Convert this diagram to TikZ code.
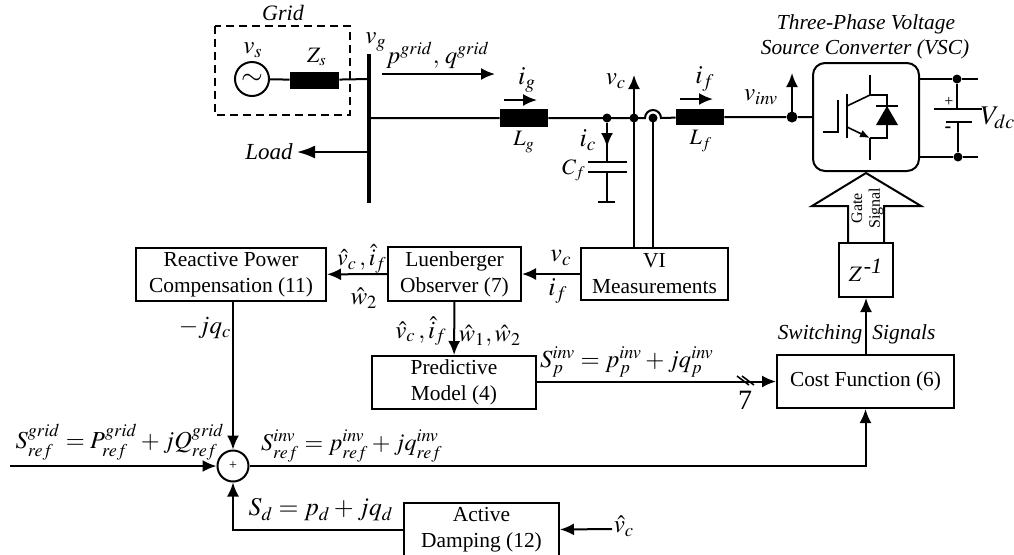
\documentclass[tikz,border=0pt]{standalone}
\usepackage{mathptmx}
\usepackage[no-math]{fontspec}
\setmainfont{Liberation Serif}
\usepackage{tikz}
\usetikzlibrary{arrows.meta,positioning,calc}
\tikzset{
  block/.style={draw,line width=1pt,inner sep=0pt,align=center,font=\fontsize{10.7}{13}\selectfont},
  lab/.style={inner sep=0pt,font=\fontsize{10.7}{13}\selectfont},
  flow/.style={-{Latex[length=7pt,width=6pt]},line width=1pt},
  wire/.style={line width=1pt},
  thin wire/.style={line width=0.8pt},
  dot/.style={circle,fill=black,inner sep=0pt,minimum size=4.5pt},
  choke/.style={fill=black,inner sep=0pt},
}
\begin{document}
\begin{tikzpicture}[x=0.5pt,y=-0.5pt]
\useasboundingbox (0,0) rectangle (1014,554);
% grid side
\draw[line width=0.7pt,dash pattern=on 4pt off 2.5pt] (215,26) rectangle (350,115);
\node[lab,font=\fontsize{11}{13}\itshape] (gridlab) at (283,13) {Grid};
\node[circle,draw,line width=1pt,minimum size=17pt,inner sep=0pt] (vs) at (252,79) {\fontsize{14}{14}\selectfont$\sim$};
\node[lab] (vslab) at (253,50) {\fontsize{12.5}{12}\selectfont$v_s$};
\node[choke,minimum width=24.5pt,minimum height=8.5pt] (zs) at (314.5,80) {};
\node[lab] (zslab) at (317,57) {\fontsize{11}{12}\selectfont$Z_s$};
\coordinate (bustop) at (369,54);
\coordinate (busbot) at (369,203);
\draw[line width=1.6pt] (bustop) -- (busbot);
\coordinate (busa) at (369,79);
\coordinate (busb) at (369,118);
\coordinate (busc) at (369,152);
\draw[wire] (vs) -- (zs) -- (busa);
\node[lab] (vglab) at (376,42) {\fontsize{12.5}{12}\selectfont$v_g$};
\coordinate (pqa) at (382,74);
\coordinate (pqb) at (495,74);
\draw[flow] (pqa) -- (pqb);
\node[lab] (pqlab) at (438,55) {\fontsize{12.2}{12}\selectfont$p^{grid},\,q^{grid}$};
\node[lab,font=\fontsize{11.5}{13}\itshape] (loadlab) at (269,152) {Load};
\draw[-{Latex[length=9pt,width=6.5pt]},wire] (busc) -- (297,152);
% filter
\node[choke,minimum width=24pt,minimum height=9pt] (lg) at (524,118) {};
\node[lab] (lglab) at (524,142) {\fontsize{11}{12}\selectfont$L_g$};
\node[lab] (iglab) at (527,80) {\fontsize{13}{12}\selectfont$i_g$};
\draw[flow] (504,100) -- (537,100);
\node[dot] (ncap) at (607,118) {};
\node[dot] (nvc) at (634,118) {};
\node[dot] (nif) at (653,118) {};
\node[choke,minimum width=24pt,minimum height=8pt] (lf) at (700,117) {};
\node[lab] (lflab) at (701,141) {\fontsize{11}{12}\selectfont$L_f$};
\node[lab] (iflab) at (705,79) {\fontsize{13}{12}\selectfont$i_f$};
\draw[flow] (680,99) -- (713,99);
\node[dot,minimum size=5.5pt] (ninv) at (792,117) {};
\draw[wire] (busb) -- (lg) -- (nvc.center) -- (645,118) arc[start angle=180,end angle=360,radius=8] -- (lf) -- (ninv) -- (813,117);
% capacitor
\coordinate (capa) at (607,162);
\coordinate (capb) at (607,172);
\coordinate (gnd) at (607,202);
\draw[wire] (ncap) -- (capa);
\draw[flow] (ncap) -- (607,147);
\draw[line width=1.2pt] (588,162) -- (627,162);
\draw[line width=1.2pt] (588,172) -- (627,172);
\draw[wire] (capb) -- (gnd);
\draw[wire] (598,202) -- (615,202);
\node[lab] (iclab) at (588,140) {\fontsize{13}{12}\selectfont$i_c$};
\node[lab] (cflab) at (574,170) {\fontsize{11}{12}\selectfont$C_f$};
\node[lab] (vclab) at (616,81) {\fontsize{12.5}{12}\selectfont$v_c$};
\node[lab] (vinvlab) at (761,97) {\fontsize{12.5}{12}\selectfont$v_{inv}$};
\draw[flow] (nvc.center) -- (634,75);
\draw[flow] (ninv.center) -- (792,73);
% converter
\node[lab,font=\fontsize{10.7}{13}\itshape] (title1) at (866,24) {Three-Phase Voltage};
\node[lab,font=\fontsize{10.7}{13}\itshape] (title2) at (865,49) {Source Converter (VSC)};
\draw[wire,rounded corners=6pt] (813,63) rectangle (919,171);
\draw[thin wire] (823,132) -- (838,132) -- (838,100);
\draw[wire] (847,94) -- (847,138);
\draw[thin wire] (847,106) -- (870,95) -- (870,75);
\draw[thin wire] (870,95) -- (887,95) -- (887,138) -- (870,138);
\draw[thin wire,-{Latex[length=5pt,width=4pt]}] (847,127) -- (870,138);
\draw[thin wire] (870,138) -- (870,160);
\fill (887,106) -- (876,125) -- (898,125) -- cycle;
\draw[thin wire] (876,106) -- (898,106);
% dc link
\node[dot] (dctop) at (957,79) {};
\node[dot] (dcbot) at (958,157) {};
\draw[wire] (919,79) -- (dctop) -- (978,79);
\draw[wire] (919,157) -- (dcbot) -- (978,157);
\draw[wire] (dctop) -- (957,109);
\draw[wire] (958,122) -- (dcbot);
\draw[wire] (934,109) -- (982,109);
\draw[wire] (946,122) -- (972,122);
\node[lab,font=\fontsize{8}{8}\selectfont] (plus) at (949,102) {+};
\node[lab,font=\fontsize{10}{8}\bfseries] (minus) at (948,130) {-};
\node[lab] (vdclab) at (998,118) {\fontsize{13.5}{14}\selectfont$V_{dc}$};
% gate signal
\draw[wire] (848,243) -- (848,206) -- (812,206) -- (866,173) -- (921,206) -- (884,206) -- (884,243);
\node[lab,font=\fontsize{8}{9}\selectfont,rotate=90] (gatelab) at (857,208) {Gate};
\node[lab,font=\fontsize{8}{9}\selectfont,rotate=90] (siglab) at (876,208) {Signal};
\node[block,minimum width=27pt,minimum height=27pt,font=\fontsize{11}{13}\selectfont] (zinv) at (866,270) {$Z^{\,\textit{-1}}$};
\node[block,minimum width=88.5pt,minimum height=26.5pt] (cost) at (865.5,381.5) {Cost Function (6)};
\draw[flow] (cost.north -| zinv.south) -- (zinv.south);
\node[lab,font=\fontsize{10.7}{13}\itshape] (swlab1) at (820,334) {Switching};
\node[lab,font=\fontsize{10.7}{13}\itshape] (swlab2) at (904,334) {Signals};
% control blocks
\node[block,minimum width=73.5pt,minimum height=26pt] (vi) at (654.5,274) {VI\\Measurements};
\node[block,minimum width=66.5pt,minimum height=27pt] (obs) at (454.5,274) {Luenberger\\Observer (7)};
\node[block,minimum width=95pt,minimum height=26.5pt] (rpc) at (231,274.5) {Reactive Power\\Compensation (11)};
\node[block,minimum width=82pt,minimum height=26.5pt] (pred) at (454,382.5) {Predictive\\Model (4)};
\node[block,minimum width=77.5pt,minimum height=26.5pt] (damp) at (481.5,529.5) {Active\\Damping (12)};
\node[circle,draw,line width=1pt,minimum size=15.5pt,inner sep=0pt,font=\fontsize{7}{8}\selectfont] (sum) at (233,466) {+};
\draw[wire] (nvc.center) -- (vi.north -| nvc);
\draw[wire] (nif.center) -- (vi.north -| nif);
\draw[flow] (vi) -- (obs);
\draw[flow] (obs) -- (rpc);
\draw[flow] (obs) -- (pred);
\node[lab] (vclab2) at (561,258) {\fontsize{13}{12}\selectfont$v_c$};
\node[lab] (iflab2) at (558,291) {\fontsize{13}{12}\selectfont$i_f$};
\node[lab] (hatlab1) at (362,259) {\fontsize{12}{12}\selectfont$\hat{v}_c\,,\hat{i}_f$};
\node[lab] (hatlab2) at (364,298) {\fontsize{12.5}{12}\selectfont$\hat{w}_2$};
\node[lab] (hatlab3) at (421,331) {\fontsize{12.5}{12}\selectfont$\hat{v}_c\,,\hat{i}_f$};
\node[lab] (hatlab4) at (490,336) {\fontsize{12.2}{12}\selectfont$\hat{w}_1,\hat{w}_2$};
\draw[flow] (rpc.south -| sum) -- (sum);
\node[lab] (qclab) at (205,328) {\fontsize{12.5}{12}\selectfont$-jq_c$};
\node[lab] (spinv) at (627,362) {\fontsize{12.3}{12}\selectfont$S_p^{inv}=p_p^{inv}+jq_p^{inv}$};
\draw[flow] (pred.east |- cost.west) -- (cost.west);
\draw[thin wire] (737,376) -- (749,385);
\draw[thin wire] (742,376) -- (754,385);
\node[lab] (sevenlab) at (745,400) {\fontsize{14}{14}\selectfont 7};
% summing junction
\coordinate (srefin) at (10,466);
\draw[flow] (srefin) -- (sum);
\node[lab] (sgrid) at (120,442) {\fontsize{12.2}{12}\selectfont$S_{ref}^{grid}=P_{ref}^{grid}+jQ_{ref}^{grid}$};
\node[lab] (sinv) at (352,446) {\fontsize{12}{12}\selectfont$S_{ref}^{inv}=p_{ref}^{inv}+jq_{ref}^{inv}$};
\draw[flow] (sum) -| (cost.south);
\draw[flow] (damp.west) -| (sum.south);
\node[lab] (sdlab) at (321,510) {\fontsize{12.8}{12}\selectfont$S_d=p_d+jq_d$};
\coordinate (vhatin) at (612,529);
\draw[flow] (vhatin) -- (damp.east);
\node[lab] (hatlab5) at (624,526) {\fontsize{12.5}{12}\selectfont$\hat{v}_c$};
\end{tikzpicture}
\end{document}
